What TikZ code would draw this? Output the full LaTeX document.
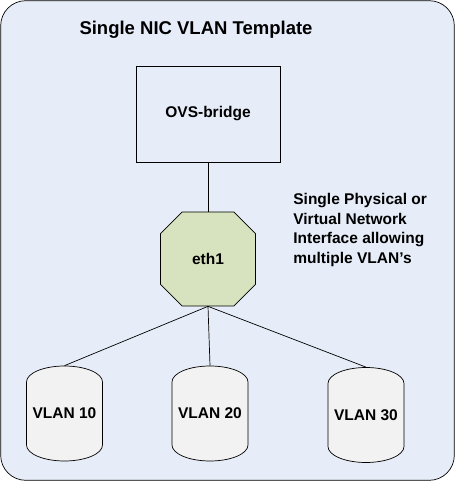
\documentclass[tikz,border=0pt]{standalone}
\usepackage{fontspec}
\setmainfont{Liberation Sans}
\usetikzlibrary{shapes.misc}
\definecolor{panelblue}{HTML}{E7EDF8}
\definecolor{nicgreen}{HTML}{D7E3BE}
\definecolor{cangray}{HTML}{F2F2F2}
\tikzset{
  lbl/.style={font=\bfseries\fontsize{15.5}{19.7}\selectfont},
  bridgebox/.style={draw=black,fill=panelblue,minimum width=144pt,minimum height=96pt,lbl},
  nicbox/.style={chamfered rectangle,chamfered rectangle xsep=19pt,chamfered rectangle ysep=19pt,
    draw=black,fill=nicgreen,minimum width=95pt,minimum height=94pt,inner sep=0pt,lbl},
  vlan/.style={minimum width=76pt,minimum height=95pt,inner sep=0pt,lbl},
  can/.style={draw=black,fill=cangray,line width=0.7pt},
  wire/.style={draw=black,line width=0.7pt}
}
\begin{document}
\begin{tikzpicture}[x=1pt,y=1pt,line width=0.7pt]
  \useasboundingbox (0,0) rectangle (455,481);
  \draw[fill=panelblue,rounded corners=25pt] (0.7,0.7) rectangle (454.3,480.3);

  \node[font=\bfseries\fontsize{18.5}{22}\selectfont] (title) at (196,451) {Single NIC VLAN Template};
  \node[bridgebox] (ovs) at (208,367) {OVS-bridge};
  \node[nicbox] (eth1) at (208,222) {eth1};
  \node[lbl,align=left,anchor=north west,inner sep=0pt] (note) at (293,288)
    {Single Physical or\\Virtual Network\\Interface allowing\\multiple VLAN’s};

  % VLAN cans
  \foreach \n/\x/\y/\t in {v10/64.5/67.5/VLAN 10, v20/210/67.5/VLAN 20, v30/366/66/VLAN 30} {
    \draw[can] ({\x-38},{\y+31.5}) arc[start angle=180,end angle=0,x radius=38,y radius=16]
      -- ({\x+38},{\y-31.5}) arc[start angle=0,end angle=-180,x radius=38,y radius=16] -- cycle;
    \node[vlan] (\n) at (\x,\y) {\t};
  }

  \draw[wire] (ovs) -- (eth1);
  \draw[wire] (eth1.south) -- (v10.north);
  \draw[wire] (eth1.south) -- (v20.north);
  \draw[wire] (eth1.south) -- (v30.north);
\end{tikzpicture}
\end{document}
